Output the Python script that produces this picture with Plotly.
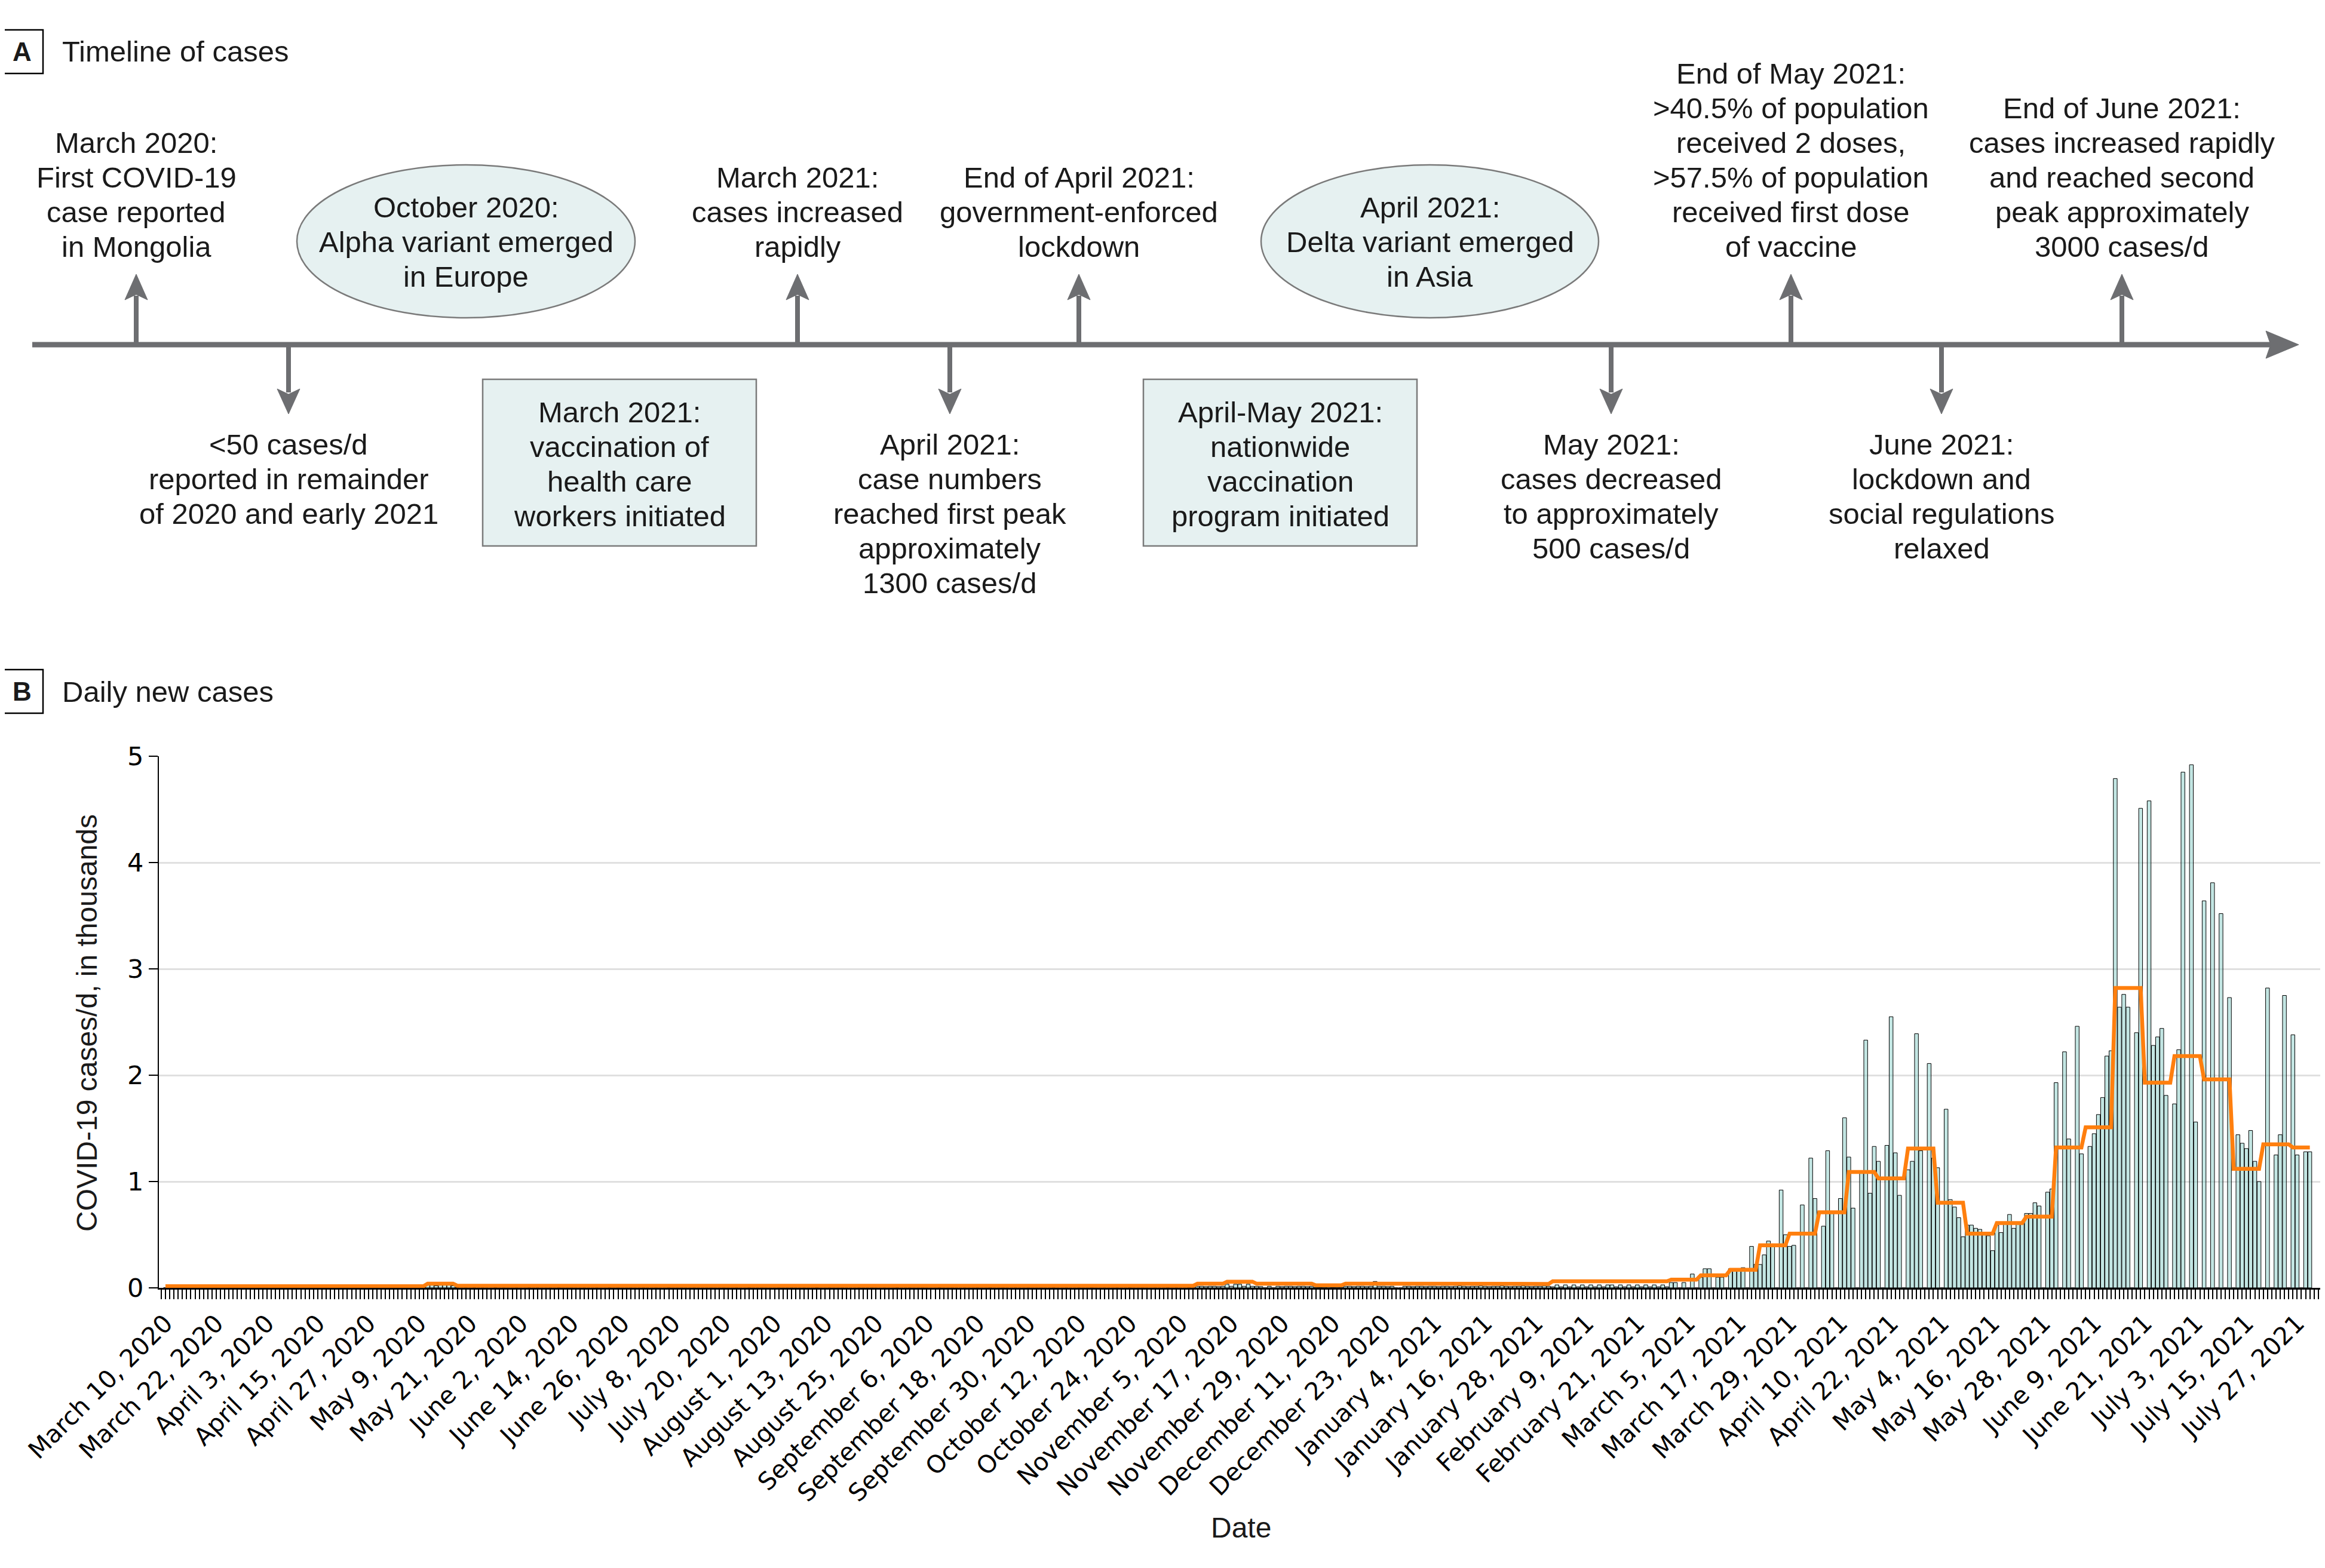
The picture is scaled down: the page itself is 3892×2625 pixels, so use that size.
import plotly.graph_objects as go
import pandas as pd

# ---------------- DATA (values in thousands of cases per day) ----------------
start_date = "2020-03-10"

mar20 = [0.001, 0, 0, 0, 0.001, 0, 0, 0.001, 0, 0, 0.001, 0, 0, 0, 0, 0.001, 0, 0.002, 0, 0.001, 0, 0.001]
apr20 = [0, 0.001, 0, 0.001, 0, 0, 0.002, 0, 0.001, 0, 0, 0.001, 0, 0, 0.001, 0, 0, 0, 0.001, 0,
         0, 0.001, 0, 0, 0, 0.001, 0, 0, 0.001, 0]
may20 = [0, 0.001, 0, 0, 0.002, 0, 0.001, 0, 0, 0.003, 0.03, 0.04, 0.02, 0.05, 0.03, 0.04, 0.02, 0.002, 0, 0.001,
         0, 0.002, 0, 0.001, 0, 0, 0.003, 0, 0.001, 0, 0]
jun20 = [0.001, 0, 0, 0.002, 0, 0.001, 0, 0, 0.001, 0, 0.002, 0, 0, 0.001, 0, 0, 0.001, 0, 0, 0.001,
         0, 0, 0.002, 0, 0.001, 0, 0, 0.001, 0, 0]
jul20 = [0.001, 0, 0, 0.001, 0, 0, 0.002, 0, 0, 0.001, 0, 0, 0.001, 0, 0, 0, 0.001, 0, 0, 0.001,
         0, 0, 0.001, 0, 0, 0.002, 0, 0, 0.001, 0, 0]
aug20 = [0, 0.001, 0, 0, 0.001, 0, 0, 0.001, 0, 0, 0.002, 0, 0, 0.001, 0, 0, 0.001, 0, 0, 0,
         0.001, 0, 0, 0.001, 0, 0, 0.001, 0, 0, 0.002, 0]
sep20 = [0, 0.001, 0, 0, 0.001, 0, 0, 0, 0.002, 0, 0, 0.001, 0, 0, 0.001, 0, 0, 0.001, 0, 0,
         0.002, 0, 0, 0.001, 0, 0, 0.001, 0, 0, 0.001]
oct20 = [0, 0, 0.001, 0, 0, 0.002, 0, 0, 0.001, 0, 0, 0.001, 0, 0, 0.002, 0, 0, 0.001, 0, 0,
         0.001, 0, 0, 0.002, 0, 0, 0.001, 0, 0, 0.001, 0]
nov20 = [0, 0.002, 0, 0.001, 0, 0, 0.002, 0, 0.015, 0.015, 0.012, 0.015, 0.015, 0.012, 0.015, 0.034, 0.015, 0.034, 0.034, 0.015,
         0.034, 0.015, 0.015, 0.012, 0, 0.015, 0, 0.015, 0.012, 0.015]
dec20 = [0.015, 0.012, 0.015, 0.015, 0.012, 0.015, 0.005, 0.004, 0.005, 0.006, 0.004, 0.005, 0.005, 0.015, 0.015, 0.012, 0.015, 0.015, 0.012, 0.015,
         0.06, 0.015, 0.015, 0.012, 0.015, 0, 0, 0.015, 0.015, 0.012, 0.015]
jan21 = [0.015, 0.012, 0.015, 0.015, 0.012, 0.015, 0.015, 0.012, 0.015, 0.018, 0.015, 0.012, 0.015, 0.015, 0.018, 0.015, 0.012, 0.015, 0.015, 0.018,
         0.015, 0.012, 0.015, 0.015, 0.018, 0.015, 0.012, 0.015, 0.015, 0.018, 0.015]
feb21 = [0.01, 0.028, 0.01, 0.028, 0.01, 0.028, 0.01, 0.028, 0.01, 0.028, 0.01, 0.028, 0.01, 0.028, 0.028, 0.01, 0.028, 0.01, 0.028, 0.01,
         0.028, 0.01, 0.028, 0.01, 0.028, 0.01, 0.028, 0.01]
mar21 = [0.05, 0.05, 0, 0.05, 0, 0.13, 0, 0.10, 0.18, 0.18, 0, 0.10, 0.10, 0, 0.18, 0.16, 0.16, 0.19, 0, 0.39,
         0.22, 0.22, 0.31, 0.44, 0.40, 0, 0.92, 0.50, 0.39, 0.40, 0]
apr21 = [0.78, 0, 1.22, 0.84, 0, 0.58, 1.29, 0.70, 0, 0.84, 1.60, 1.23, 0.75, 0, 1.08, 2.33, 0.89, 1.33, 1.19, 0,
         1.34, 2.55, 1.27, 0.87, 0, 1.11, 1.19, 2.39, 1.29, 0]
may21 = [2.11, 1.22, 1.13, 0, 1.68, 0.83, 0.76, 0.66, 0.48, 0.59, 0.59, 0.56, 0.55, 0.50, 0.49, 0.35, 0.59, 0.52, 0.62, 0.69,
         0.56, 0.60, 0.61, 0.70, 0.70, 0.80, 0.77, 0, 0.90, 0.93, 1.93]
jun21 = [0, 2.22, 1.40, 0, 2.46, 1.26, 0, 1.33, 1.45, 1.63, 1.79, 2.18, 2.23, 4.79, 2.64, 2.76, 2.64, 0, 2.40, 4.51,
         0, 4.58, 2.28, 2.36, 2.44, 1.81, 0, 1.73, 2.24, 4.85]
jul21 = [0, 4.92, 1.56, 0, 3.64, 0, 3.81, 0, 3.52, 0, 2.73, 0, 1.44, 1.36, 1.31, 1.48, 1.19, 1.00, 0, 2.82,
         0, 1.25, 1.44, 2.75, 0, 2.38, 1.25, 0, 1.28, 1.28]

# weekly (Monday-Sunday) averages, thousands; first week is partial
weekly_avg = ([0.015] * 9 + [0.04] + [0.02] * 25 +
              [0.039, 0.058, 0.039, 0.039, 0.024, 0.039] + [0.037] * 6 + [0.062] * 4 +
              [0.077, 0.118, 0.17, 0.40, 0.51, 0.71, 1.09, 1.03, 1.31, 0.80, 0.51, 0.61, 0.67,
               1.32, 1.51, 2.82, 1.93, 2.18, 1.96, 1.12, 1.35, 1.32])

daily_cases = (mar20 + apr20 + may20 + jun20 + jul20 + aug20 + sep20 + oct20 + nov20 + dec20 +
               jan21 + feb21 + mar21 + apr21 + may21 + jun21 + jul21)
dates = pd.date_range(start_date, periods=len(daily_cases), freq="D")
week_index = [0 if i < 6 else (i - 6) // 7 + 1 for i in range(len(daily_cases))]
avg_line = [weekly_avg[k] for k in week_index]

# timeline texts
events_up = [
    (228, ["March 2020:", "First COVID-19", "case reported", "in Mongolia"]),
    (1335, ["March 2021:", "cases increased", "rapidly"]),
    (1806, ["End of April 2021:", "government-enforced", "lockdown"]),
    (2998, ["End of May 2021:", ">40.5% of population", "received 2 doses,",
            ">57.5% of population", "received first dose", "of vaccine"]),
    (3552, ["End of June 2021:", "cases increased rapidly", "and reached second",
            "peak approximately", "3000 cases/d"]),
]
events_down = [
    (483, ["<50 cases/d", "reported in remainder", "of 2020 and early 2021"]),
    (1590, ["April 2021:", "case numbers", "reached first peak", "approximately", "1300 cases/d"]),
    (2697, ["May 2021:", "cases decreased", "to approximately", "500 cases/d"]),
    (3250, ["June 2021:", "lockdown and", "social regulations", "relaxed"]),
]
boxes = [
    ((808, 635, 1266, 914), ["March 2021:", "vaccination of", "health care", "workers initiated"]),
    ((1914, 635, 2372, 914), ["April-May 2021:", "nationwide", "vaccination", "program initiated"]),
]
ellipses = [
    ((497, 276, 1063, 532), ["October 2020:", "Alpha variant emerged", "in Europe"]),
    ((2111, 276, 2676, 532), ["April 2021:", "Delta variant emerged", "in Asia"]),
]

# ---------------- LAYOUT GEOMETRY (page pixels) ----------------
W, H = 3892, 2625
OFF = 8                      # page body margin of the html page
PL, PR, PT, PB = 266, 3885, 1266, 2156


def px(x):
    return (x - PL) / (PR - PL)


def py(y):
    return (PB - y) / (PB - PT)


GRAY = "#6d6e71"
TXT = "#1a1a1a"
FONT = "Liberation Sans, Arial, sans-serif"
TICKFONT = "DejaVu Sans, Verdana, sans-serif"
FS = 49
LINE = 58
TL_Y = 577

fig = go.Figure()
fig.add_trace(go.Bar(
    x=dates, y=daily_cases,
    marker=dict(color="rgba(135,206,200,0.5)", line=dict(color="black", width=1)),
    hoverinfo="x+y", showlegend=False,
))
fig.add_trace(go.Scatter(
    x=dates, y=avg_line, mode="lines",
    line=dict(color="#ff7f0e", width=6.5), showlegend=False,
))

shapes = []
annotations = []


def text_line(x, y, s, size=FS, family=FONT, **kw):
    annotations.append(dict(x=px(x), y=py(y), xref="paper", yref="paper", text=s, showarrow=False,
                            xanchor=kw.get("xanchor", "center"), yanchor="middle",
                            font=dict(family=family, size=size, color=TXT)))


def path(points):
    d = "M " + " L ".join(f"{px(a):.6f},{py(b):.6f}" for a, b in points) + " Z"
    return dict(type="path", xref="paper", yref="paper", path=d,
                fillcolor=GRAY, line=dict(color=GRAY, width=1), layer="above")


# main timeline
shapes.append(dict(type="line", xref="paper", yref="paper", x0=px(54), y0=py(TL_Y), x1=px(3805), y1=py(TL_Y),
                   line=dict(color=GRAY, width=9)))
shapes.append(path([(3848, TL_Y), (3793, TL_Y - 23), (3801, TL_Y), (3793, TL_Y + 23)]))

for x, lines in events_up:
    shapes.append(dict(type="line", xref="paper", yref="paper", x0=px(x), y0=py(TL_Y), x1=px(x), y1=py(495),
                       line=dict(color=GRAY, width=8)))
    shapes.append(path([(x, 459), (x + 19, 502), (x, 493), (x - 19, 502)]))
    n = len(lines)
    for j, s in enumerate(lines):
        text_line(x, 413 - (n - 1 - j) * LINE, s)

for x, lines in events_down:
    shapes.append(dict(type="line", xref="paper", yref="paper", x0=px(x), y0=py(TL_Y), x1=px(x), y1=py(657),
                       line=dict(color=GRAY, width=8)))
    shapes.append(path([(x, 693), (x + 19, 651), (x, 660), (x - 19, 651)]))
    for j, s in enumerate(lines):
        text_line(x, 744 + j * LINE, s)

for (x0, y0, x1, y1), lines in boxes:
    shapes.append(dict(type="rect", xref="paper", yref="paper", x0=px(x0), y0=py(y0), x1=px(x1), y1=py(y1),
                       fillcolor="#e6f1f1", line=dict(color="#7a7a7a", width=2.5)))
    for j, s in enumerate(lines):
        text_line((x0 + x1) / 2, 690 + j * LINE, s)

for (x0, y0, x1, y1), lines in ellipses:
    shapes.append(dict(type="circle", xref="paper", yref="paper", x0=px(x0), y0=py(y0), x1=px(x1), y1=py(y1),
                       fillcolor="#e6f1f1", line=dict(color="#7a7a7a", width=2.5)))
    for j, s in enumerate(lines):
        text_line((x0 + x1) / 2, 347 + j * LINE, s)

# panel labels
for (y0, y1, letter, title) in [(50, 123, "A", "Timeline of cases"), (1121, 1194, "B", "Daily new cases")]:
    shapes.append(dict(type="rect", xref="paper", yref="paper", x0=px(1), y0=py(y0), x1=px(72), y1=py(y1),
                       fillcolor="white", line=dict(color="black", width=2.5)))
    text_line(37, (y0 + y1) / 2, f"<b>{letter}</b>", size=44)
    text_line(102, (y0 + y1) / 2, title, xanchor="left")

# axis titles
text_line(2077, 2557, "Date", size=48)
annotations.append(dict(x=px(145), y=py(1713), xref="paper", yref="paper", text="COVID-19 cases/d, in thousands",
                        showarrow=False, textangle=-90, xanchor="center", yanchor="middle",
                        font=dict(family=FONT, size=48, color=TXT)))

fig.update_layout(
    width=W - OFF, height=H - OFF, autosize=False,
    margin=dict(l=PL - OFF, r=W - PR, t=PT - OFF, b=H - PB, pad=0),
    paper_bgcolor="white", plot_bgcolor="white",
    bargap=0.1,
    shapes=shapes, annotations=annotations,
    xaxis=dict(
        type="date",
        range=["2020-03-08 10:48:00", "2021-08-01 14:24:00"],
        showline=True, linecolor="black", linewidth=2.5,
        ticks="outside", ticklen=16, tickwidth=1.5, tickcolor="black",
        tick0=start_date, dtick=12 * 86400000, tickformat="%B %-d, %Y", tickangle=-45,
        tickfont=dict(family=TICKFONT, size=41, color="black"),
        showgrid=False, zeroline=False,
        minor=dict(dtick=86400000, ticks="outside", ticklen=16, tickwidth=1.5, tickcolor="black", showgrid=False),
    ),
    yaxis=dict(
        range=[0, 5], dtick=1, tick0=0,
        showline=True, linecolor="black", linewidth=2,
        ticks="outside", ticklen=15, tickwidth=1.5, tickcolor="black",
        tickfont=dict(family=TICKFONT, size=43, color="black"),
        showgrid=True, gridcolor="#e0e0e0", gridwidth=3, zeroline=False,
    ),
)

fig.write_html("out.html")
